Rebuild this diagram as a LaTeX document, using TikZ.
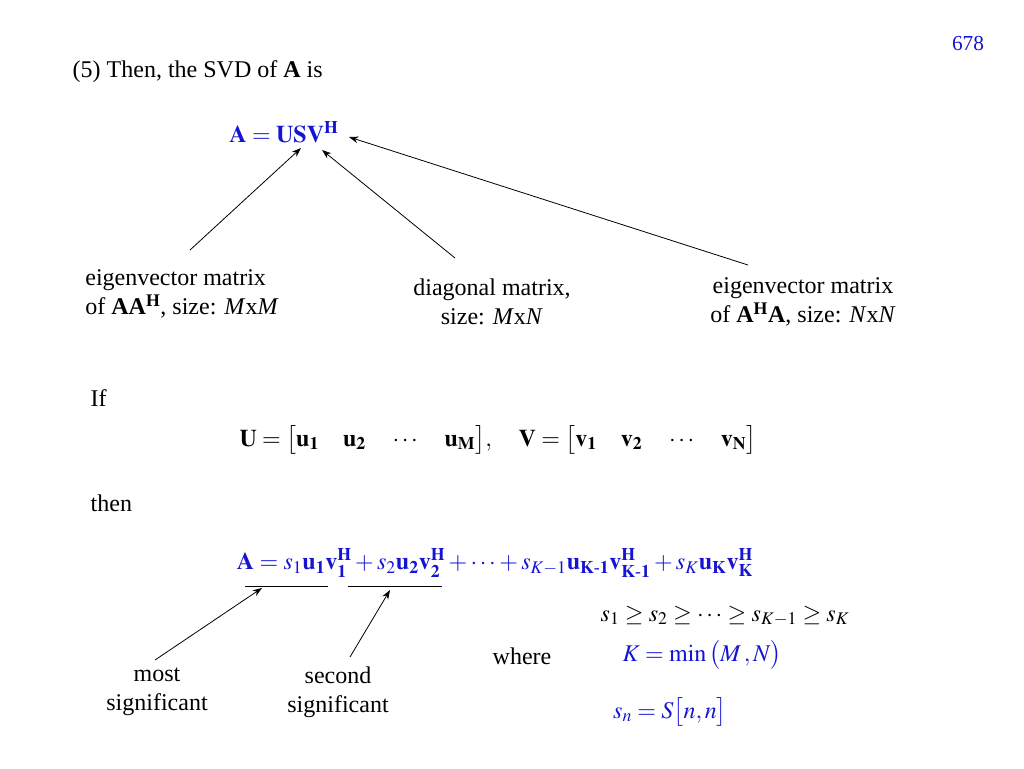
\documentclass[tikz,border=0pt]{standalone}
\usepackage{amsmath}
\usepackage{mathptmx}
\usepackage{fontspec}
\setmainfont{Liberation Serif}
\usetikzlibrary{arrows.meta}
\begin{document}
\begin{tikzpicture}[x=0.75pt,y=-0.75pt,font=\fontsize{18}{22}\selectfont,
  arr/.style={-{Stealth[length=7pt,width=5pt]},line width=0.6pt},
  lbl/.style={align=center,inner sep=0pt}]
\useasboundingbox (0,0) rectangle (1024,768);
\definecolor{eqblue}{RGB}{20,20,210}
\node[text=eqblue,font=\fontsize{16}{18}\selectfont] (pg) at (968,44) {678};
\node[anchor=west] (t5) at (68,72) {(5) Then, the SVD of \textbf{A} is};
\node[text=eqblue] (eq1) at (284,132) {$\mathbf{A}=\mathbf{U}\mathbf{S}\mathbf{V}^{\mathbf{H}}$};
\coordinate (Ut) at (301,148);
\coordinate (St) at (322,150);
\coordinate (Vt) at (349,137);
\node[lbl,align=left] (l1) at (182,294) {eigenvector matrix\\of \textbf{AA\textsuperscript{H}}, size: \textit{M}x\textit{M}};
\node[lbl] (l2) at (492,302) {diagonal matrix,\\size: \textit{M}x\textit{N}};
\node[lbl] (l3) at (803,302) {eigenvector matrix\\of \textbf{A\textsuperscript{H}A}, size: \textit{N}x\textit{N}};
\coordinate (s1) at (190,250); \coordinate (s2) at (455,258); \coordinate (s3) at (748,265);
\draw[arr] (s1) -- (Ut);
\draw[arr] (s2) -- (St);
\draw[arr] (s3) -- (Vt);
\node[anchor=west] (if) at (86,398) {If};
\node (uv) at (498,440) {$\mathbf{U}=\big[\mathbf{u_1}\quad\mathbf{u_2}\quad\cdots\quad\mathbf{u_M}\big],\quad\mathbf{V}=\big[\mathbf{v_1}\quad\mathbf{v_2}\quad\cdots\quad\mathbf{v_N}\big]$};
\node[anchor=west] (then) at (86,503) {then};
\node[text=eqblue] (eq2) at (495,563) {$\mathbf{A}=s_1\mathbf{u_1}\mathbf{v_1^H}+s_2\mathbf{u_2}\mathbf{v_2^H}+\cdots+s_{K-1}\mathbf{u_{K\text{-}1}}\mathbf{v_{K\text{-}1}^H}+s_K\mathbf{u_K}\mathbf{v_K^H}$};
\coordinate (ua) at (245,586); \coordinate (ub) at (328,586);
\coordinate (uc) at (348,586); \coordinate (ud) at (442,586);
\draw[line width=0.6pt] (ua) -- (ub);
\draw[line width=0.6pt] (uc) -- (ud);
\node (ord) at (725,616) {$s_1\geq s_2\geq\cdots\geq s_{K-1}\geq s_K$};
\node (where) at (522,656) {where};
\node[text=eqblue] (kmin) at (702,655) {$K=\min\big(M\,,N\big)$};
\node[text=eqblue] (sn) at (670,712) {$s_n=S\big[n,n\big]$};
\node[lbl] (ms) at (157,692) {most\\significant};
\node[lbl] (ss) at (338,692) {second\\significant};
\coordinate (a1s) at (155,660); \coordinate (a1e) at (262,588);
\coordinate (a2s) at (350,657); \coordinate (a2e) at (390,590);
\draw[arr] (a1s) -- (a1e);
\draw[arr] (a2s) -- (a2e);
\end{tikzpicture}
\end{document}
